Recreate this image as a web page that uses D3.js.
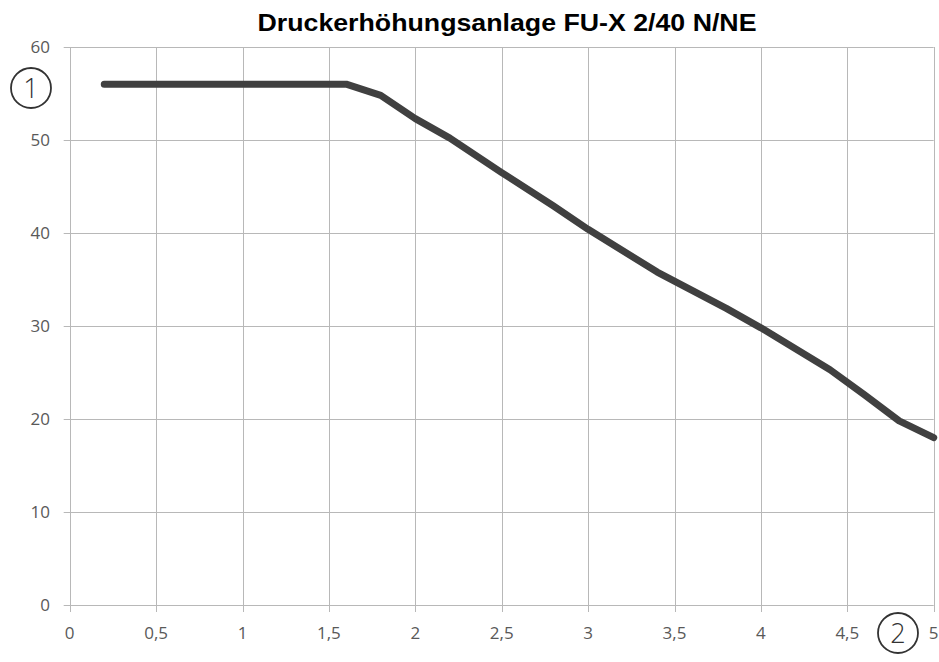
<!DOCTYPE html>
<html><head><meta charset="utf-8">
<script src="https://cdn.jsdelivr.net/npm/d3@7"></script>
<style>body{margin:0;background:#fff}svg{display:block}</style>
</head><body>
<svg id="c" width="939" height="662"></svg>
<script>
const title = "Druckerhöhungsanlage FU-X 2/40 N/NE";
const flow = [0.2, 1.6, 1.8, 2.0, 2.2, 2.5, 2.8, 3.0, 3.4, 3.8, 4.0, 4.4, 4.6, 4.8, 5.0];
const head = [56, 56, 54.8, 52.3, 50.2, 46.5, 42.9, 40.4, 35.8, 31.9, 29.8, 25.3, 22.6, 19.8, 18.0];
const xTicks = [0, 0.5, 1, 1.5, 2, 2.5, 3, 3.5, 4, 4.5, 5];
const yTicks = [0, 10, 20, 30, 40, 50, 60];
const yMarker = "1";
const xMarker = "2";

const svg = d3.select("#c");
const x = d3.scaleLinear().domain([0, 5]).range([69.7, 933.7]);
const y = d3.scaleLinear().domain([0, 60]).range([605, 47]);
const fmt = d => String(d).replace(".", ",");
const font = "'Open Sans', sans-serif";

svg.append("g").selectAll("line").data(yTicks).join("line")
  .attr("x1", x(0) - 6).attr("x2", x(5))
  .attr("y1", d => Math.round(y(d)) + 0.5).attr("y2", d => Math.round(y(d)) + 0.5)
  .attr("stroke", "#b8b8b8").attr("stroke-width", 1);
svg.append("g").selectAll("line").data(xTicks).join("line")
  .attr("x1", d => Math.round(x(d)) + 0.5).attr("x2", d => Math.round(x(d)) + 0.5)
  .attr("y1", y(60)).attr("y2", y(0) + 7)
  .attr("stroke", "#b8b8b8").attr("stroke-width", 1);

svg.append("g").selectAll("text").data(yTicks).join("text")
  .attr("x", 50).attr("y", d => y(d)).attr("dy", "0.35em")
  .attr("text-anchor", "end").attr("font-family", font).attr("font-size", 17)
  .attr("fill", "#595959").text(fmt);
svg.append("g").selectAll("text").data(xTicks).join("text")
  .attr("x", d => x(d)).attr("y", 633).attr("dy", "0.35em")
  .attr("text-anchor", "middle").attr("font-family", font).attr("font-size", 17)
  .attr("fill", "#595959").text(fmt);

const line = d3.line().x((d, i) => x(flow[i])).y(d => y(d));
svg.append("path").datum(head).attr("d", line)
  .attr("fill", "none").attr("stroke", "#404040").attr("stroke-width", 7)
  .attr("stroke-linejoin", "round").attr("stroke-linecap", "round");

svg.append("text").attr("x", 507).attr("y", 31).attr("text-anchor", "middle")
  .attr("font-family", "'Liberation Sans', Arial, sans-serif").attr("font-weight", "bold")
  .attr("font-size", 24).attr("textLength", 499).attr("lengthAdjust", "spacingAndGlyphs")
  .attr("fill", "#000").text(title);

function marker(cx, cy, t) {
  svg.append("circle").attr("cx", cx).attr("cy", cy).attr("r", 20)
    .attr("fill", "none").attr("stroke", "#333").attr("stroke-width", 1.8);
  svg.append("text").attr("x", cx).attr("y", cy).attr("dy", "0.36em")
    .attr("text-anchor", "middle").attr("font-family", font).attr("font-weight", 300)
    .attr("font-size", 27).attr("fill", "#333").text(t);
}
marker(31, 88, yMarker);
marker(898, 633, xMarker);
</script>
</body></html>
